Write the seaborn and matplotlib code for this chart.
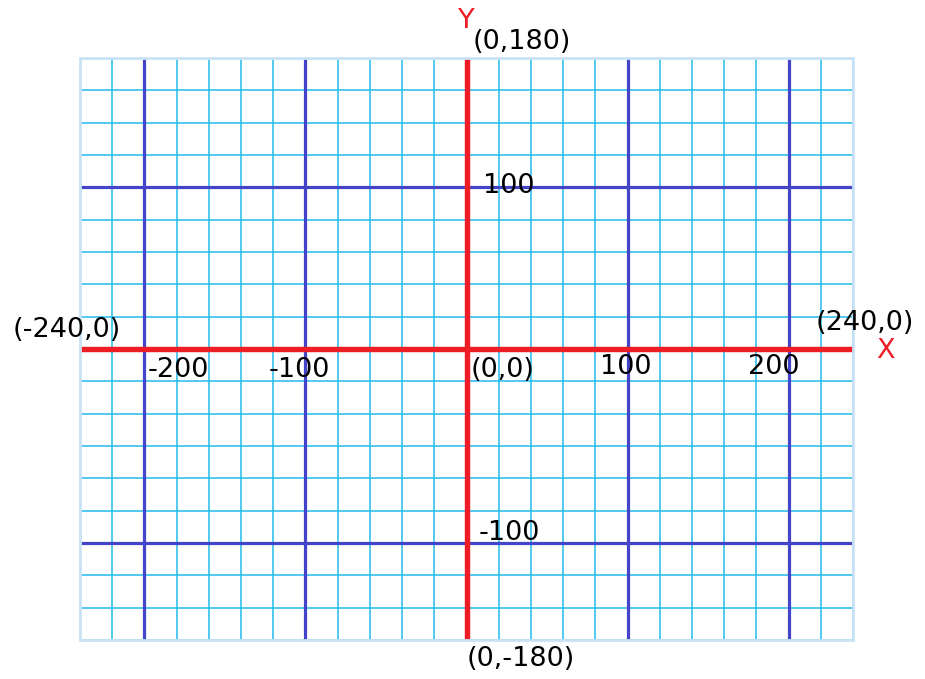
import numpy as np
import pandas as pd
import matplotlib
matplotlib.use("Agg")
import matplotlib.pyplot as plt
import seaborn as sns

sns.set_theme(style="white")
plt.rcParams['font.family'] = ['DejaVu Sans']

# data
x_min, x_max = -240, 240
y_min, y_max = -180, 180
minor_x = list(range(-240, 241, 20))
minor_y = list(range(-180, 181, 20))
major_x = [-200, -100, 100, 200]
major_y = [-120, 100]   # lower line sits one cell below -100 in the source picture

# labels: text, x, y, colour, ha
labels = [
    ("Y", 0, 203, "#EE1C25", "center"),
    ("(0,180)", 3.5, 190, "black", "left"),
    ("(-240,0)", -282, 12, "black", "left"),
    ("(240,0)", 217, 16, "black", "left"),
    ("X", 260, -1, "#EE1C25", "center"),
    ("-200", -198, -13, "black", "left"),
    ("-100", -123, -13, "black", "left"),
    ("(0,0)", 2.5, -13, "black", "left"),
    ("100", 83, -11, "black", "left"),
    ("200", 175, -11, "black", "left"),
    ("100", 10, 101, "black", "left"),
    ("-100", 7.5, -114, "black", "left"),
    ("(0,-180)", 0, -192, "black", "left"),
]

# build line segments table
rows = []
uid = 0
def add(kind, xs, ys):
    global uid
    for xv, yv in zip(xs, ys):
        rows.append({"x": xv, "y": yv, "unit": uid, "kind": kind})
    uid += 1

for v in minor_x:
    add("minor", [v, v], [y_min, y_max])
for v in minor_y:
    add("minor", [x_min, x_max], [v, v])
for v in major_x:
    add("major", [v, v], [y_min, y_max])
for v in major_y:
    add("major", [x_min, x_max], [v, v])
add("axis", [x_min, x_max], [0, 0])
add("axis", [0, 0], [y_min, y_max])
df = pd.DataFrame(rows)

fig = plt.figure(figsize=(9.25, 6.79), dpi=100)
ax = fig.add_axes([80 / 925, 39 / 679, 773 / 925, 582 / 679])

palette = {"minor": "#22BBEE", "major": "#4444C8", "axis": "#EE1C25"}
widths = {"minor": 1.1, "major": 2.3, "axis": 3.9}
for kind in ["minor", "major", "axis"]:
    sub = df[df["kind"] == kind]
    sns.lineplot(data=sub, x="x", y="y", units="unit", estimator=None,
                 sort=False, color=palette[kind], linewidth=widths[kind],
                 ax=ax, legend=False)

ax.set_xlim(x_min, x_max)
ax.set_ylim(y_min, y_max)
ax.set_xticks([])
ax.set_yticks([])
ax.set_xlabel("")
ax.set_ylabel("")
for s in ax.spines.values():
    s.set_color("#C9E2F4")
    s.set_linewidth(2)

for text, tx, ty, col, ha in labels:
    ax.text(tx, ty, text, color=col, ha=ha, va="center", fontsize=19.5,
            clip_on=False)

fig.savefig("out.png", dpi=100)
